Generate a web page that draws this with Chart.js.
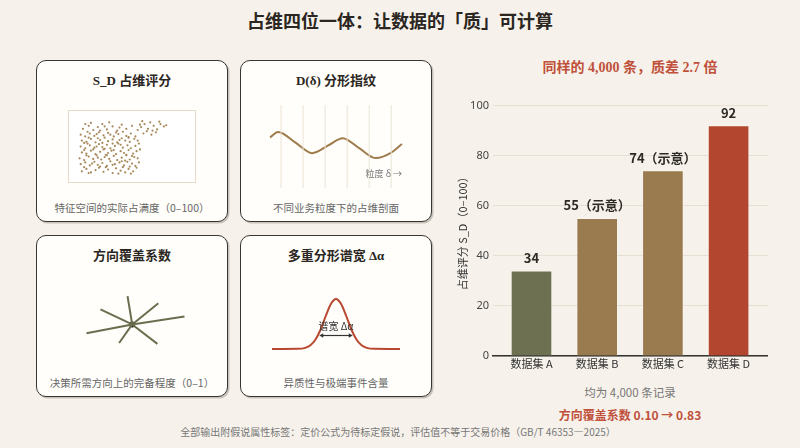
<!DOCTYPE html>
<html lang="zh">
<head>
<meta charset="UTF-8">
<title>占维四位一体：让数据的「质」可计算</title>
<script src="https://cdn.jsdelivr.net/npm/chart.js"></script>
<style>
    body {
        margin: 0;
        width: 800px;
        height: 448px;
        background: #f6f2eb;
        font-family: "Noto Sans CJK SC", "Noto Sans", sans-serif;
        position: relative;
        overflow: hidden;
    }
    .abs { position: absolute; }
    .title {
        left: 0; width: 800px; top: 7px;
        text-align: center;
        font: bold 18px "Liberation Serif", "Noto Sans CJK SC", serif;
        color: #2b2621;
    }
    .card {
        position: absolute;
        width: 192px; height: 162px;
        box-sizing: border-box;
        border: 1.5px solid #3a3530;
        border-radius: 10px;
        background: #fffefb;
        box-shadow: 1.5px 1.5px 0 rgba(60,50,40,0.25);
    }
    .card .t {
        position: absolute; left: 0; right: 0; top: 9px;
        text-align: center;
        font: bold 13px "Liberation Serif", "Noto Sans CJK SC", serif;
        color: #2b2621;
    }
    .card .c {
        position: absolute; left: 0; right: 0; top: 139px;
        text-align: center;
        font-size: 10.5px;
        color: #666;
    }
    .box {
        left: 68px; top: 110px; width: 128px; height: 73px;
        box-sizing: border-box;
        border: 1px solid #e3d9c6;
        background: #fff;
    }
    .small { font-size: 9px; color: #777; }
    .center { text-align: center; }
</style>
</head>
<body>
    <div class="abs title">占维四位一体：让数据的「质」可计算</div>

    <div class="card" style="left:36px;top:60px">
        <div class="t">S_D 占维评分</div>
        <div class="c">特征空间的实际占满度（0–100）</div>
    </div>
    <div class="card" style="left:240px;top:60px">
        <div class="t">D(δ) 分形指纹</div>
        <div class="c">不同业务粒度下的占维剖面</div>
    </div>
    <div class="card" style="left:36px;top:235px">
        <div class="t">方向覆盖系数</div>
        <div class="c">决策所需方向上的完备程度（0–1）</div>
    </div>
    <div class="card" style="left:240px;top:235px">
        <div class="t">多重分形谱宽 Δα</div>
        <div class="c">异质性与极端事件含量</div>
    </div>

    <div class="abs box"></div>
    <canvas id="scatter" class="abs" style="left:71px;top:113px" width="122" height="67"></canvas>
    <canvas id="wave" class="abs" style="left:268px;top:105px" width="136" height="83"></canvas>
    <div class="abs small" style="left:340px;width:62px;top:167px;text-align:right">粒度 δ →</div>
    <canvas id="star" class="abs" style="left:75px;top:285px" width="120" height="70"></canvas>
    <canvas id="gauss" class="abs" style="left:268px;top:293px" width="136" height="62"></canvas>
    <div class="abs center" style="left:306px;width:60px;top:318px;font-size:10px;color:#333">谱宽 Δα</div>

    <div class="abs center" style="left:480px;width:300px;top:56px;font:bold 14px 'Liberation Serif','Noto Sans CJK SC',serif;color:#c0503a">同样的 4,000 条，质差 2.7 倍</div>
    <canvas id="bars" class="abs" style="left:454px;top:95px" width="314" height="281"></canvas>
    <div class="abs center" style="left:480px;width:300px;top:384px;font-size:11.5px;color:#777">均为 4,000 条记录</div>
    <div class="abs center" style="left:480px;width:300px;top:406px;font-size:12px;font-weight:bold;color:#c0503a">方向覆盖系数 0.10 → 0.83</div>
    <div class="abs center" style="left:0;width:796px;top:424px;font-size:10px;color:#777">全部输出附假说属性标签：定价公式为待标定假说，评估值不等于交易价格（GB/T 46353—2025）</div>

<script>
    // ---- bar chart data ----
    const categories = ['数据集 A', '数据集 B', '数据集 C', '数据集 D'];
    const scores = [34, 55, 74, 92];
    const scoreLabels = ['34', '55（示意）', '74（示意）', '92'];
    const barColors = ['#6e7052', '#9a7b4f', '#9a7b4f', '#b3462e'];
    const yTicks = [0, 20, 40, 60, 80, 100];

    // ---- illustration data ----
    const sdPoints = [
        [6,8],[10,12],[14,6],[18,10],[21,14],[25,7],[29,11],[33,5],[36,13],[40,9],[44,6],[47,12],[51,8],[54,14],[8,15],[27,15],[42,15],[12,5],[38,4],[49,4],
        [5,20],[9,23],[13,18],[17,24],[20,19],[24,22],[28,17],[31,25],[35,20],[39,23],[43,18],[46,24],[50,21],[53,17],[56,23],[15,21],[33,19],[41,25],[48,16],[22,16],
        [4,30],[8,27],[12,33],[16,29],[19,35],[23,28],[26,32],[30,29],[34,34],[37,27],[41,31],[45,35],[48,28],[52,32],[55,30],[10,35],[28,35],[44,26],[20,31],[50,34],
        [6,40],[10,38],[14,43],[18,37],[22,41],[25,45],[29,39],[32,43],[36,37],[40,42],[43,39],[47,44],[51,38],[54,42],[57,45],[16,45],[34,44],[27,36],[45,36],[8,44],
        [5,50],[9,47],[13,52],[17,48],[21,54],[24,49],[28,53],[31,47],[35,51],[38,55],[42,48],[46,52],[49,47],[53,51],[56,55],[11,55],[26,46],[40,53],[19,50],[33,55],
        [6,60],[10,58],[14,63],[18,57],[22,61],[26,65],[29,59],[33,62],[37,57],[41,64],[44,60],[48,58],[52,63],[55,60],[12,65],[24,56],[39,61],[47,65],[20,64],[8,56],
        [5,70],[9,67],[13,72],[17,68],[21,74],[25,69],[29,73],[34,67],[38,71],[42,75],[45,68],[49,72],[53,67],[11,75],[31,70],[47,66],[19,71],[36,74],
        [7,80],[12,85],[16,78],[20,83],[24,88],[28,79],[33,84],[37,77],[41,87],[45,80],[50,85],[14,90],[30,91],[22,77],[39,82],[9,88],[26,84],
        [55,78],[58,83],[61,88],[64,80],[66,91],[69,85],[72,79],[75,88],[78,84],[60,72],[63,76],[67,70],[71,74],[59,93],[74,92],[57,87],[68,77],[80,86]
    ];
    const waveGridX = [9.6, 25.8, 42, 58.2, 74.4, 90.6];
    const wavePoints = [[1.5,61],[7.4,67.5],[20,55],[32.4,42],[44,51],[55,60],[67,48],[79.4,36],[90,42],[98.5,53]];
    const starCenter = [57, 40];
    const starRays = [[8,50],[113,31],[23,23],[84,62],[52,8],[43,61],[85,16]];
    const gaussPoints = [[0,0],[20,0.3],[26,2.3],[30,7.4],[34,19],[38,39],[42,66],[46,90],[50,100],
                         [54,90],[58,66],[62,39],[66,19],[70,7.4],[74,2.3],[80,0.3],[100,0]];
    const spanX = [39, 61];
    const spanY = 27;

    const xy = p => ({ x: p[0], y: p[1] });

    function miniChart(id, datasets, xr, yr, reverseY) {
        return new Chart(document.getElementById(id), {
            type: 'line',
            data: { datasets: datasets },
            options: {
                responsive: false,
                animation: false,
                layout: { padding: 0 },
                plugins: { legend: { display: false }, tooltip: { enabled: false } },
                scales: {
                    x: { type: 'linear', display: false, min: xr[0], max: xr[1] },
                    y: { type: 'linear', display: false, min: yr[0], max: yr[1], reverse: !!reverseY }
                }
            }
        });
    }

    // S_D scatter
    miniChart('scatter', [{
        data: sdPoints.map(xy),
        showLine: false,
        pointRadius: 1.1,
        pointBackgroundColor: '#a88a5c',
        pointBorderWidth: 0
    }], [0, 100], [0, 100]);

    // D(delta) fingerprint
    const gridSets = waveGridX.map(x => ({
        data: [{ x: x, y: 0 }, { x: x, y: 100 }],
        borderColor: '#ebe4d6', borderWidth: 1, pointRadius: 0
    }));
    miniChart('wave', gridSets.concat([
        { data: wavePoints.map(xy), borderColor: '#9f7c4c', borderWidth: 2, pointRadius: 0,
          cubicInterpolationMode: 'monotone' }
    ]), [0, 100], [0, 100]);

    // direction coverage star
    const raySets = starRays.map(r => ({
        data: [xy(starCenter), xy(r)],
        borderColor: '#6b6e4e', borderWidth: 2, pointRadius: 0
    }));
    miniChart('star', raySets.concat([
        { data: [xy(starCenter)], showLine: false, pointRadius: 3, pointBackgroundColor: '#1e1c18', pointBorderWidth: 0 }
    ]), [0, 120], [0, 70], true);

    // multifractal spectrum width
    miniChart('gauss', [
        { data: gaussPoints.map(xy), borderColor: '#b8482f', borderWidth: 2, pointRadius: 0,
          cubicInterpolationMode: 'monotone' },
        { data: [{ x: spanX[0], y: spanY }, { x: spanX[1], y: spanY }], borderColor: '#333', borderWidth: 1.2,
          pointStyle: 'triangle', pointRadius: 2.6, pointRotation: [270, 90],
          pointBackgroundColor: '#333', pointBorderWidth: 0 }
    ], [0, 100], [-4, 104]);

    // bar value labels
    const barLabels = {
        id: 'barLabels',
        afterDatasetsDraw(chart) {
            const c = chart.ctx;
            c.save();
            c.font = 'bold 13px "Noto Sans CJK SC", "Noto Sans", sans-serif';
            c.fillStyle = '#2d2a26';
            c.textAlign = 'center';
            c.textBaseline = 'middle';
            chart.getDatasetMeta(0).data.forEach((bar, i) => {
                c.fillText(scoreLabels[i], bar.x, bar.y - 13);
            });
            c.restore();
        }
    };

    new Chart(document.getElementById('bars'), {
        type: 'bar',
        data: {
            datasets: [{
                data: scores.map((v, i) => ({ x: i, y: v })),
                backgroundColor: barColors,
                borderColor: 'rgba(255,255,255,0.25)',
                borderWidth: 1,
                barThickness: 41
            }]
        },
        options: {
            responsive: false,
            animation: false,
            layout: { padding: { top: 8, right: 0, left: 0, bottom: 0 } },
            plugins: { legend: { display: false }, tooltip: { enabled: false } },
            scales: {
                x: {
                    type: 'linear',
                    offset: false,
                    min: -0.586,
                    max: 3.6,
                    grid: { display: false, drawTicks: false, offset: false },
                    border: { color: '#333', width: 1.5 },
                    afterBuildTicks: s => { s.ticks = categories.map((c, i) => ({ value: i })); },
                    ticks: {
                        callback: v => categories[v],
                        autoSkip: false,
                        maxRotation: 0,
                        padding: 1,
                        color: '#333',
                        font: { size: 11, family: '"Noto Sans CJK SC", sans-serif' }
                    },
                    afterFit: s => { s.height = 20; }
                },
                y: {
                    min: 0,
                    max: 100,
                    afterBuildTicks: s => { s.ticks = yTicks.map(v => ({ value: v })); },
                    grid: { color: '#e6dfd2', drawTicks: false },
                    border: { display: false },
                    ticks: { padding: 4, color: '#444', font: { size: 11, family: '"Noto Sans", sans-serif' } },
                    title: {
                        display: true,
                        text: '占维评分 S_D（0–100）',
                        color: '#333',
                        padding: { top: 2, bottom: 0 },
                        font: { size: 11, family: '"Noto Sans CJK SC", sans-serif' }
                    },
                    afterFit: s => { s.width = 39; }
                }
            }
        },
        plugins: [barLabels]
    });
</script>
</body>
</html>
